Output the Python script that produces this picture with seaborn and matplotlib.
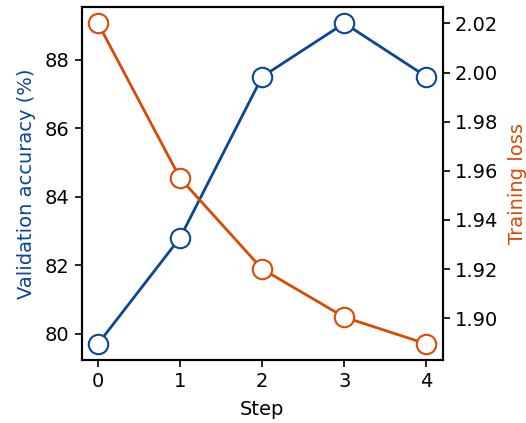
import matplotlib
matplotlib.use("Agg")
import matplotlib.pyplot as plt
import seaborn as sns
import pandas as pd

steps = [0, 1, 2, 3, 4]
val_acc = [79.7, 82.8, 87.5, 89.06, 87.5]
train_loss = [2.0201, 1.957, 1.920, 1.9004, 1.8895]

blue = "#0b4596"
orange = "#d94a04"

sns.set_style("ticks", {"axes.edgecolor": "black", "text.color": "black",
                        "axes.labelcolor": "black", "xtick.color": "black",
                        "ytick.color": "black"})
plt.rcParams["font.family"] = ["DejaVu Sans"]
fs = 14

df = pd.DataFrame({"Step": steps, "acc": val_acc, "loss": train_loss})

fig, ax = plt.subplots(figsize=(5.26, 4.23), dpi=100)
fig.subplots_adjust(left=0.155, right=0.842, top=0.983, bottom=0.149)
ax2 = ax.twinx()

sns.lineplot(data=df, x="Step", y="acc", ax=ax, color=blue, lw=2,
             marker="o", markersize=14, markerfacecolor="white",
             markeredgecolor=blue, markeredgewidth=1.5, zorder=3)
sns.lineplot(data=df, x="Step", y="loss", ax=ax2, color=orange, lw=2,
             marker="o", markersize=14, markerfacecolor="white",
             markeredgecolor=orange, markeredgewidth=1.5, zorder=3)

ax.set_xlim(-0.2, 4.2)
ax.set_xticks(steps)
ax.set_xlabel("Step", fontsize=fs, labelpad=6.5)
ax.set_ylabel("Validation accuracy (%)", color=blue, fontsize=fs, labelpad=6.5)
ax2.set_ylabel("Training loss", color=orange, fontsize=fs, labelpad=7.5)
ax.set_yticks([80, 82, 84, 86, 88])
ax2.set_yticks([1.90, 1.92, 1.94, 1.96, 1.98, 2.00, 2.02])

for a in (ax, ax2):
    a.tick_params(labelsize=fs, width=1.2, length=5, colors="black")
    for s in a.spines.values():
        s.set_visible(True)
        s.set_linewidth(1.5)
        s.set_color("black")

fig.savefig("out.png", dpi=100)
